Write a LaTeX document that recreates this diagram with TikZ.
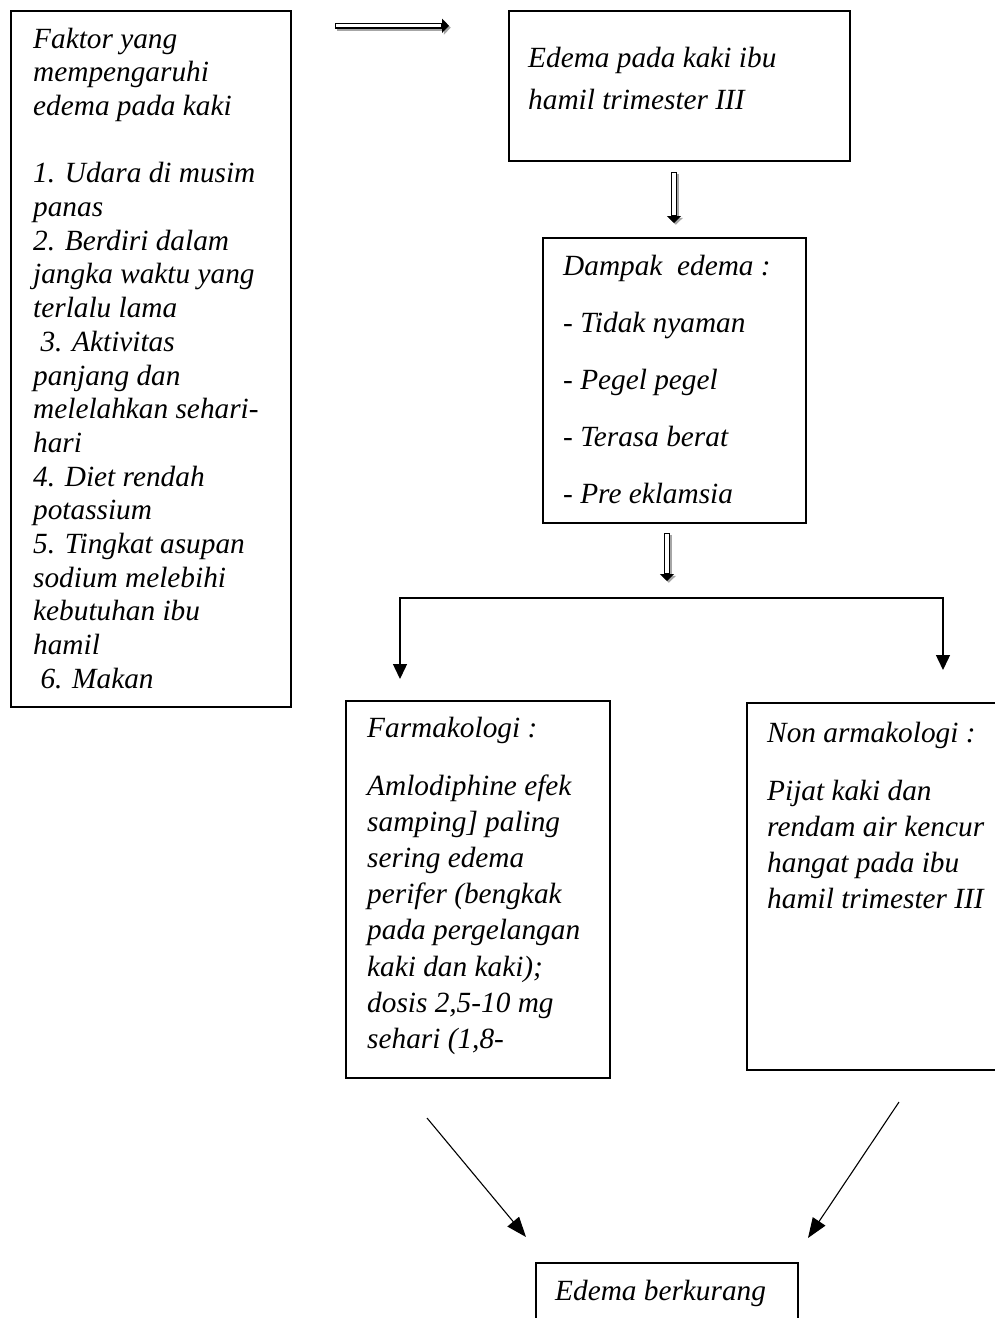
\documentclass[tikz,border=0pt]{standalone}
\usepackage{fontspec}
\setmainfont{Liberation Serif}
\usetikzlibrary{arrows.meta,calc}
\newcommand{\mylines}[1]{\begin{tabular}[t]{@{}l@{}}#1\end{tabular}}
\begin{document}
\begin{tikzpicture}[x=1pt,y=-1pt,
  box/.style={draw, line width=2.2pt, inner sep=0pt, anchor=north west},
  txt/.style={anchor=base west, inner sep=0pt,
    font=\fontsize{29.3}{33.7}\selectfont\itshape},
  thin/.style={line width=1.4pt, -{Triangle[length=15pt,width=14pt]}},
  diag/.style={line width=1.1pt, -{Triangle[length=20pt,width=15pt]}},
  hollowout/.style={line width=6pt, -{Triangle[length=7pt,width=14pt]}},
  hollowin/.style={line width=3.2pt, white},
  shadow/.style={line width=6pt, black!35, -{Triangle[length=7pt,width=14pt]}}]
\useasboundingbox (0,0) rectangle (995,1318);
\clip (0,0) rectangle (995,1318);

% boxes
\node[box, minimum width=280pt, minimum height=696pt] (fak) at (10,10) {};
\node[box, minimum width=341pt, minimum height=150pt] (top) at (508,10) {};
\node[box, minimum width=263pt, minimum height=285pt] (dam) at (542,237) {};
\node[box, minimum width=264pt, minimum height=377pt] (far) at (345,700) {};
\node[box, minimum width=300pt, minimum height=367pt] (non) at (746,702) {};
\node[box, minimum width=262pt, minimum height=100pt] (bot) at (535,1262) {};

% texts
\node[txt] (fakT) at (33,48) {\mylines{Faktor yang\\mempengaruhi\\edema pada kaki\\[33.7pt]1. Udara di musim\\panas\\2. Berdiri dalam\\jangka waktu yang\\terlalu lama\\\hspace*{7.3pt}3. Aktivitas\\panjang dan\\melelahkan sehari-\\hari\\4. Diet rendah\\potassium\\5. Tingkat asupan\\sodium melebihi\\kebutuhan ibu\\hamil\\\hspace*{7.3pt}6. Makan}};
\node[txt, font=\fontsize{29.3}{42}\selectfont\itshape] (topT) at (528,67) {\mylines{Edema pada kaki ibu\\hamil trimester III}};
\node[txt, font=\fontsize{29.3}{57}\selectfont\itshape] (damT) at (563,275) {\mylines{Dampak\ \ edema :\\- Tidak nyaman\\- Pegel pegel\\- Terasa berat\\- Pre eklamsia}};
\node[txt, font=\fontsize{29.3}{36.2}\selectfont\itshape] (farT) at (367,737) {\mylines{Farmakologi :\\[21.8pt]Amlodiphine efek\\samping] paling\\sering edema\\perifer (bengkak\\pada pergelangan\\kaki dan kaki);\\dosis 2,5-10 mg\\sehari (1,8-}};
\node[txt, font=\fontsize{29.3}{36}\selectfont\itshape] (nonT) at (767,742) {\mylines{Non armakologi :\\[22pt]Pijat kaki dan\\rendam air kencur\\hangat pada ibu\\hamil trimester III}};
\node[txt] (botT) at (555,1300) {Edema berkurang};

% hollow block arrows
\coordinate (h1s) at (335,25.8);
\coordinate (h1e) at (449,25.8);
\coordinate (h2s) at (674,172);
\coordinate (h2e) at (674,223);
\coordinate (h3s) at (667,533);
\coordinate (h3e) at (667,581);
\foreach \s/\e in {h1s/h1e,h2s/h2e,h3s/h3e}{
  \draw[shadow] ($(\s)+(1.8,1.8)$) -- ($(\e)+(1.8,1.8)$);
  \draw[hollowout] (\s) -- (\e);
  \draw[hollowin, shorten <=1.4pt, shorten >=8pt] (\s) -- (\e);
}

% branching connector
\coordinate (split) at (671,598);
\coordinate (lt) at (400,679);
\coordinate (rt) at (943,670);
\draw[thin] (split) -- (lt |- split) -- (lt);
\draw[thin] (split) -- (rt |- split) -- (rt);

% diagonal arrows
\coordinate (d1s) at (427,1118);
\coordinate (d1e) at (526,1237);
\coordinate (d2s) at (899,1102);
\coordinate (d2e) at (808,1238);
\draw[diag] (d1s) -- (d1e);
\draw[diag] (d2s) -- (d2e);
\end{tikzpicture}
\end{document}
